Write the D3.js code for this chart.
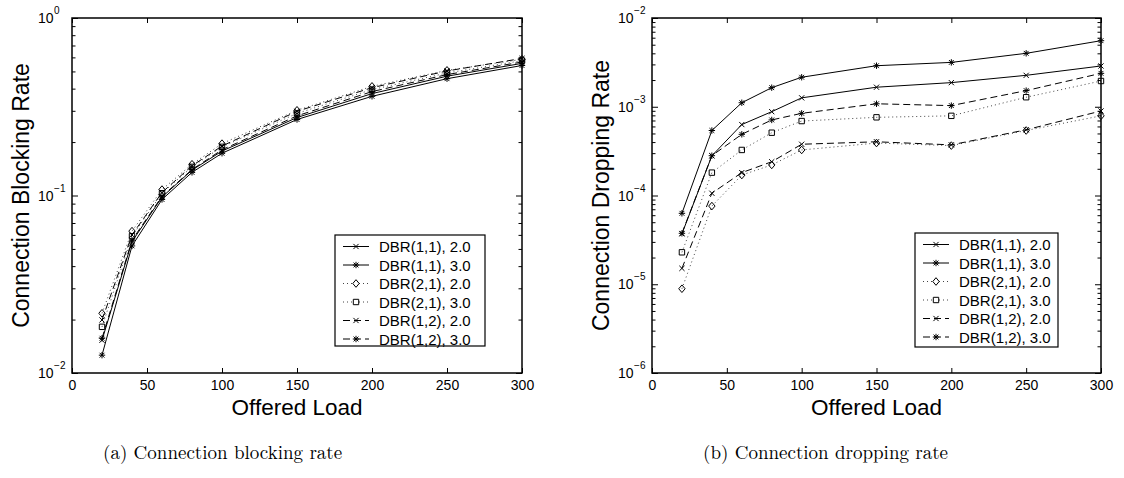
<!DOCTYPE html>
<html>
<head>
<meta charset="utf-8">
<script src="https://cdn.jsdelivr.net/npm/d3@7"></script>
<style>
  html, body { margin: 0; padding: 0; background: #fff; }
  svg { display: block; }
</style>
</head>
<body>
<svg id="fig" width="1124" height="478"></svg>
<script>
// Offered load sample points shared by both panels
const offeredLoad = [20, 40, 60, 80, 100, 150, 200, 250, 300];
const xTicks = [0, 50, 100, 150, 200, 250, 300];

const seriesLabels = [
  "DBR(1,1), 2.0", "DBR(1,1), 3.0",
  "DBR(2,1), 2.0", "DBR(2,1), 3.0",
  "DBR(1,2), 2.0", "DBR(1,2), 3.0"
];

// (a) connection blocking rate
const blockDBR11_20 = [0.0153, 0.055, 0.098, 0.139, 0.178, 0.275, 0.375, 0.470, 0.555];
const blockDBR11_30 = [0.0126, 0.052, 0.095, 0.135, 0.173, 0.268, 0.362, 0.455, 0.540];
const blockDBR21_20 = [0.0217, 0.063, 0.108, 0.150, 0.196, 0.302, 0.412, 0.507, 0.585];
const blockDBR21_30 = [0.0182, 0.059, 0.103, 0.145, 0.188, 0.290, 0.395, 0.490, 0.575];
const blockDBR12_20 = [0.0199, 0.060, 0.104, 0.147, 0.190, 0.298, 0.405, 0.503, 0.592];
const blockDBR12_30 = [0.0157, 0.056, 0.099, 0.140, 0.181, 0.281, 0.385, 0.480, 0.565];

// (b) connection dropping rate
const dropDBR11_20 = [3.7e-5, 2.8e-4, 6.3e-4, 8.8e-4, 1.26e-3, 1.66e-3, 1.87e-3, 2.26e-3, 2.88e-3];
const dropDBR11_30 = [6.3e-5, 5.4e-4, 1.11e-3, 1.64e-3, 2.15e-3, 2.90e-3, 3.16e-3, 4.00e-3, 5.55e-3];
const dropDBR21_20 = [8.9e-6, 7.6e-5, 1.70e-4, 2.21e-4, 3.26e-4, 3.90e-4, 3.65e-4, 5.40e-4, 7.90e-4];
const dropDBR21_30 = [2.29e-5, 1.81e-4, 3.26e-4, 5.1e-4, 6.9e-4, 7.6e-4, 7.9e-4, 1.28e-3, 1.95e-3];
const dropDBR12_20 = [1.51e-5, 1.06e-4, 1.81e-4, 2.4e-4, 3.78e-4, 4.03e-4, 3.72e-4, 5.50e-4, 8.96e-4];
const dropDBR12_30 = [3.75e-5, 2.81e-4, 4.89e-4, 7.1e-4, 8.43e-4, 1.08e-3, 1.03e-3, 1.52e-3, 2.38e-3];

// line / marker style per series
const styles = [
  { marker: "x",       dash: null },
  { marker: "star",    dash: null },
  { marker: "diamond", dash: "1,3" },
  { marker: "square",  dash: "1,3" },
  { marker: "x",       dash: "7,4" },
  { marker: "star",    dash: "7,4" }
];

const FONT = "'Liberation Sans', Arial, Helvetica, sans-serif";
const svg = d3.select("#fig");

function markerPath(type) {
  const p = d3.path();
  if (type === "x") {
    const r = 2.6;
    p.moveTo(-r, -r); p.lineTo(r, r);
    p.moveTo(-r, r);  p.lineTo(r, -r);
  } else if (type === "star") {
    const r = 3.2, q = 2.4;
    p.moveTo(-r, 0); p.lineTo(r, 0);
    p.moveTo(0, -r); p.lineTo(0, r);
    p.moveTo(-q, -q); p.lineTo(q, q);
    p.moveTo(-q, q);  p.lineTo(q, -q);
  } else if (type === "diamond") {
    p.moveTo(0, -3.8); p.lineTo(3.2, 0); p.lineTo(0, 3.8); p.lineTo(-3.2, 0); p.closePath();
  } else if (type === "square") {
    p.rect(-2.7, -2.7, 5.4, 5.4);
  }
  return p.toString();
}

function drawPanel(opts) {
  const { left, right, top, bottom, yDomain, series, yLabel, labelX, legend } = opts;
  const g = svg.append("g");

  const x = d3.scaleLinear().domain([0, 300]).range([left, right]);
  const y = d3.scaleLog().domain(yDomain).range([bottom, top]);

  const lo = Math.log10(yDomain[0]), hi = Math.log10(yDomain[1]);
  const majors = d3.range(lo, hi + 1).map(e => Math.pow(10, e));
  const minors = [];
  for (let e = lo; e < hi; e++) for (let m = 2; m <= 9; m++) minors.push(m * Math.pow(10, e));

  // bottom axis with labels, inward ticks
  g.append("g")
    .attr("transform", `translate(0,${bottom})`)
    .call(d3.axisBottom(x).tickValues(xTicks).tickSizeInner(-5).tickSizeOuter(0).tickPadding(7))
    .call(a => a.select(".domain").remove())
    .call(a => a.selectAll("line").attr("stroke", "#000").attr("stroke-width", 1))
    .call(a => a.selectAll("text").attr("font-family", FONT).attr("font-size", 14).attr("fill", "#000"));

  // top axis ticks only
  g.append("g")
    .attr("transform", `translate(0,${top})`)
    .call(d3.axisTop(x).tickValues(xTicks).tickSizeInner(-5).tickSizeOuter(0).tickFormat(() => ""))
    .call(a => a.select(".domain").remove())
    .call(a => a.selectAll("line").attr("stroke", "#000").attr("stroke-width", 1));

  // left / right major ticks
  [[d3.axisLeft, left], [d3.axisRight, right]].forEach(([ax, pos]) => {
    g.append("g")
      .attr("transform", `translate(${pos},0)`)
      .call(ax(y).tickValues(majors).tickSizeInner(-6).tickSizeOuter(0).tickFormat(() => ""))
      .call(a => a.select(".domain").remove())
      .call(a => a.selectAll("line").attr("stroke", "#000").attr("stroke-width", 1));
    // minor ticks
    g.append("g")
      .attr("transform", `translate(${pos},0)`)
      .call(ax(y).tickValues(minors).tickSizeInner(-3.5).tickSizeOuter(0).tickFormat(() => ""))
      .call(a => a.select(".domain").remove())
      .call(a => a.selectAll("line").attr("stroke", "#000").attr("stroke-width", 1));
  });

  // power-of-ten labels
  const yl = g.append("g");
  majors.forEach(v => {
    const e = Math.round(Math.log10(v));
    const t = yl.append("text")
      .attr("x", left - 34)
      .attr("y", y(v) + 5)
      .attr("font-family", FONT)
      .attr("font-size", 14)
      .attr("fill", "#000");
    t.append("tspan").text("10");
    t.append("tspan").attr("font-size", 10).attr("dy", -9).attr("dx", 0.5)
      .text(e === 0 ? "0" : "\u2212" + Math.abs(e));
  });

  // series lines and markers
  const line = d3.line().x((d, i) => x(offeredLoad[i])).y(d => y(d));
  series.forEach((vals, k) => {
    const st = styles[k];
    g.append("path")
      .attr("d", line(vals))
      .attr("fill", "none")
      .attr("stroke", st.dash && st.dash.startsWith("1,") ? "#444" : "#000")
      .attr("stroke-width", 1)
      .attr("stroke-dasharray", st.dash);
    g.append("g").selectAll("path")
      .data(vals)
      .join("path")
      .attr("transform", (d, i) => `translate(${x(offeredLoad[i])},${y(d)})`)
      .attr("d", markerPath(st.marker))
      .attr("fill", "none")
      .attr("stroke", "#000")
      .attr("stroke-width", 1);
  });

  // axes box
  g.append("rect")
    .attr("x", left).attr("y", top)
    .attr("width", right - left).attr("height", bottom - top)
    .attr("fill", "none").attr("stroke", "#000").attr("stroke-width", 1.5);

  // axis titles
  g.append("text")
    .attr("x", (left + right) / 2).attr("y", 415)
    .attr("text-anchor", "middle")
    .attr("font-family", FONT).attr("font-size", 22.5)
    .text("Offered Load");
  g.append("text")
    .attr("transform", `translate(${labelX},${(top + bottom) / 2}) rotate(-90)`)
    .attr("text-anchor", "middle")
    .attr("font-family", FONT).attr("font-size", 23)
    .text(yLabel);

  // legend
  const lg = g.append("g");
  lg.append("rect")
    .attr("x", legend.x).attr("y", legend.y)
    .attr("width", legend.w).attr("height", legend.h)
    .attr("fill", "#fff").attr("stroke", "#000").attr("stroke-width", 1.2);
  seriesLabels.forEach((name, k) => {
    const cy = legend.y + 11.5 + k * 18.5;
    const st = styles[k];
    const x0 = legend.x + 8, x1 = legend.x + 34;
    lg.append("line")
      .attr("x1", x0).attr("x2", x1).attr("y1", cy).attr("y2", cy)
      .attr("stroke", st.dash && st.dash.startsWith("1,") ? "#444" : "#000")
      .attr("stroke-width", 1)
      .attr("stroke-dasharray", st.dash);
    lg.append("path")
      .attr("transform", `translate(${(x0 + x1) / 2},${cy})`)
      .attr("d", markerPath(st.marker))
      .attr("fill", "#fff").attr("stroke", "#000").attr("stroke-width", 1);
    lg.append("text")
      .attr("x", legend.x + 44).attr("y", cy + 5.5)
      .attr("font-family", FONT).attr("font-size", 15)
      .text(name);
  });
}

drawPanel({
  left: 72, right: 522, top: 18, bottom: 373,
  yDomain: [1e-2, 1],
  series: [blockDBR11_20, blockDBR11_30, blockDBR21_20, blockDBR21_30, blockDBR12_20, blockDBR12_30],
  yLabel: "Connection Blocking Rate",
  labelX: 29,
  legend: { x: 335, y: 235, w: 150, h: 111 }
});

drawPanel({
  left: 652, right: 1101, top: 18, bottom: 373,
  yDomain: [1e-6, 1e-2],
  series: [dropDBR11_20, dropDBR11_30, dropDBR21_20, dropDBR21_30, dropDBR12_20, dropDBR12_30],
  yLabel: "Connection Dropping Rate",
  labelX: 609,
  legend: { x: 915, y: 233, w: 143, h: 114 }
});

// sub-figure captions
const CAP = "'Latin Modern Roman', 'CMU Serif', 'Liberation Serif', 'Times New Roman', serif";
svg.append("text").attr("x", 103).attr("y", 459)
  .attr("font-family", CAP).attr("font-size", 19).text("(a) Connection blocking rate");
svg.append("text").attr("x", 703).attr("y", 459)
  .attr("font-family", CAP).attr("font-size", 19).text("(b) Connection dropping rate");
</script>
</body>
</html>
